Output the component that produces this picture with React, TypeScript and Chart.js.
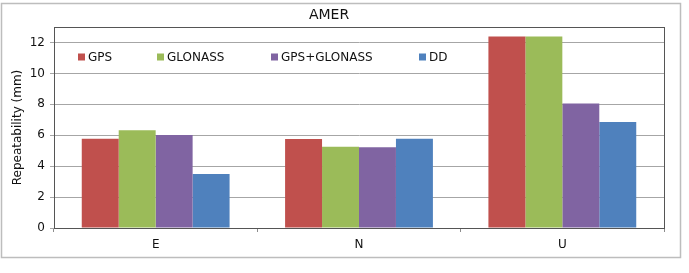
import React, { useEffect, useRef } from "react";
import { Chart, registerables } from "chart.js";

Chart.register(...registerables);

const categories = ["E", "N", "U"];
const seriesNames = ["GPS", "GLONASS", "GPS+GLONASS", "DD"];
const gpsValues = [5.78, 5.75, 12.38];
const glonassValues = [6.33, 5.25, 12.38];
const gpsGlonassValues = [6.02, 5.22, 8.05];
const ddValues = [3.5, 5.77, 6.85];
const yTicks = [0, 2, 4, 6, 8, 10, 12];
const chartTitle = "AMER";
const yAxisTitle = "Repeatability (mm)";

const colors = ["#C0504D", "#9BBB59", "#8064A2", "#4F81BD"];
const FONT = "'DejaVu Sans', Verdana, sans-serif";
const legendX = [78, 157, 271, 419];

const decorPlugin = {
  id: "decor",
  beforeDraw(chart: any) {
    const ctx = chart.ctx;
    ctx.save();
    ctx.fillStyle = "#ffffff";
    ctx.fillRect(0, 0, chart.width, chart.height);
    ctx.strokeStyle = "#bdbdbd";
    ctx.lineWidth = 1.5;
    ctx.strokeRect(1.5, 3.5, 679, 254);
    ctx.restore();
  },
  afterDraw(chart: any) {
    const ctx = chart.ctx;
    const a = chart.chartArea;
    ctx.save();
    ctx.strokeStyle = "#555555";
    ctx.lineWidth = 1;
    ctx.strokeRect(Math.round(a.left) + 0.5, Math.round(a.top) + 0.5, Math.round(a.right - a.left), Math.round(a.bottom - a.top));
    // title
    ctx.fillStyle = "#111";
    ctx.font = `14px ${FONT}`;
    ctx.textAlign = "center";
    ctx.textBaseline = "middle";
    ctx.fillText(chartTitle, 329, 15);
    // legend
    ctx.font = `12px ${FONT}`;
    ctx.textAlign = "left";
    chart.data.datasets.forEach((ds: any, i: number) => {
      const x = legendX[i];
      const y = 57;
      ctx.fillStyle = ds.backgroundColor;
      ctx.fillRect(x, y - 3.5, 7, 7);
      ctx.fillStyle = "#111";
      ctx.fillText(ds.label, x + 10, y + 0.5);
    });
    ctx.restore();
  },
};

export default function App() {
  const ref = useRef<HTMLCanvasElement>(null);
  useEffect(() => {
    if (!ref.current) return;
    const series = [gpsValues, glonassValues, gpsGlonassValues, ddValues];
    const chart = new Chart(ref.current, {
      type: "bar",
      data: {
        labels: categories,
        datasets: series.map((vals, i) => ({
          label: seriesNames[i],
          data: vals,
          backgroundColor: colors[i],
          borderWidth: 0,
          categoryPercentage: 0.727,
          barPercentage: 1,
        })),
      },
      options: {
        responsive: false,
        animation: false,
        layout: { padding: { top: 27, right: 25, left: 0, bottom: 0 } },
        plugins: {
          legend: { display: false },
          title: { display: false },
          tooltip: { enabled: false },
        },
        scales: {
          x: {
            grid: { offset: true, drawOnChartArea: false, drawTicks: true, tickLength: 4, color: "#8c8c8c" },
            border: { display: true, color: "#555555" },
            ticks: { font: { family: FONT, size: 12 }, color: "#111", padding: 6 },
            afterFit: (s: any) => { s.height = 45; },
          },
          y: {
            min: 0,
            max: 13,
            afterBuildTicks: (s: any) => { s.ticks = yTicks.map((v) => ({ value: v })); },
            grid: { color: "#a6a6a6", tickLength: 4, drawTicks: true },
            border: { display: true, color: "#555555" },
            ticks: { font: { family: FONT, size: 12 }, color: "#111", padding: 5 },
            title: { display: true, text: yAxisTitle, font: { family: FONT, size: 12 }, color: "#111", padding: { top: 11, bottom: 0 } },
            afterFit: (s: any) => { s.width = 54; },
          },
        },
      },
      plugins: [decorPlugin],
    });
    return () => chart.destroy();
  }, []);
  return (
    <div style={{ position: "absolute", left: 0, top: 0, width: 689, height: 273 }}>
      <canvas ref={ref} width={689} height={273} style={{ display: "block" }} />
    </div>
  );
}
